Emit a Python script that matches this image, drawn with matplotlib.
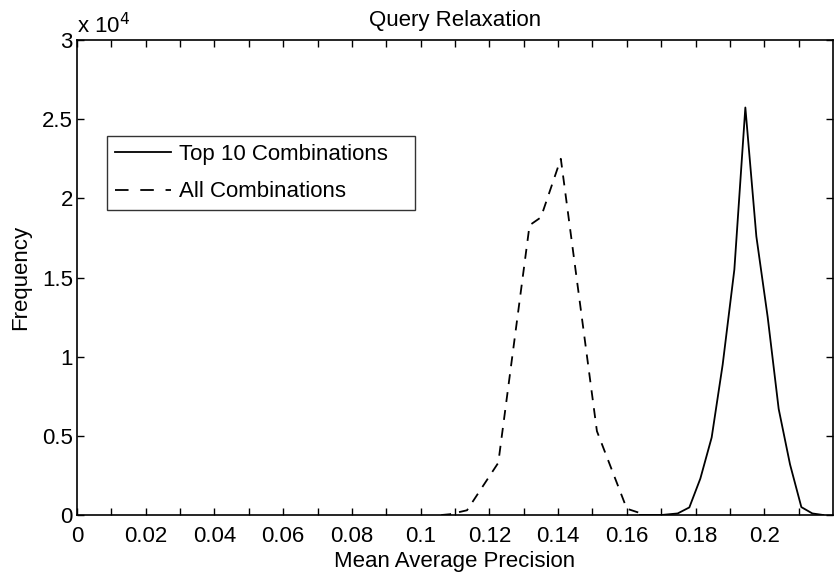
import matplotlib
matplotlib.use("Agg")
import matplotlib.pyplot as plt
import numpy as np
from matplotlib.ticker import MultipleLocator, FixedLocator, FuncFormatter

plt.rcParams['font.family'] = ['Liberation Sans', 'DejaVu Sans']

# Top 10 combinations (solid)
top_x = [0.1638, 0.1700, 0.1748, 0.1782, 0.1814, 0.1847, 0.1879, 0.1913,
         0.1945, 0.1977, 0.2010, 0.2042, 0.2075, 0.2108, 0.2140, 0.2172]
top_y = [0.0, 0.0, 0.01, 0.048, 0.23, 0.49, 0.95, 1.55,
         2.574, 1.76, 1.25, 0.67, 0.32, 0.05, 0.01, 0.0]

# All combinations (dashed)
all_x = [0.1060, 0.1085, 0.1135, 0.1226, 0.1317, 0.1350, 0.1408, 0.1513, 0.1600, 0.1649]
all_y = [0.0, 0.005, 0.03, 0.33, 1.83, 1.88, 2.25, 0.53, 0.04, 0.005]

xticks = [0, 0.02, 0.04, 0.06, 0.08, 0.1, 0.12, 0.14, 0.16, 0.18, 0.2]
xtick_labels = ['0', '0.02', '0.04', '0.06', '0.08', '0.1', '0.12', '0.14', '0.16', '0.18', '0.2']

scale = 1e4
fs = 16

fig = plt.figure(figsize=(8.38, 5.75), dpi=100)
ax = fig.add_axes([0.0919, 0.1043, 0.9021, 0.8261])

ax.plot(top_x, np.array(top_y) * scale, 'k-', lw=1.3, label='Top 10 Combinations')
ax.plot(all_x, np.array(all_y) * scale, 'k--', lw=1.3, dashes=(5.5, 4.5), label='All Combinations')

ax.set_xlim(0, 0.22)
ax.set_ylim(0, 3e4)
ax.set_xticks(xticks)
ax.set_xticklabels(xtick_labels)
ax.xaxis.set_minor_locator(FixedLocator([0.01 + 0.02 * i for i in range(11)]))
ax.yaxis.set_major_locator(MultipleLocator(5000))
ax.yaxis.set_major_formatter(FuncFormatter(lambda v, p: '%g' % (v / scale)))
ax.tick_params(which='both', direction='in', top=True, right=True, labelsize=fs, width=1)
ax.tick_params(which='major', length=5, pad=3)
ax.tick_params(which='minor', length=5)
ax.tick_params(axis='x', which='major', pad=8)
for s in ax.spines.values():
    s.set_linewidth(1.2)

ax.text(0.0, 1.004, r'x 10$^{4}$', transform=ax.transAxes, fontsize=fs, ha='left', va='bottom')

ax.set_title('Query Relaxation', fontsize=fs, pad=10)
ax.set_xlabel('Mean Average Precision', fontsize=fs, labelpad=3)
ax.set_ylabel('Frequency', fontsize=fs, labelpad=8)

leg_w = 0.4074
leg_h = 0.155
leg = ax.legend(loc='upper left', bbox_to_anchor=(0.0397, 0.798 - leg_h, leg_w, leg_h),
                mode='expand', borderaxespad=0,
                fontsize=fs, frameon=True, fancybox=False, edgecolor='k',
                handlelength=2.55, borderpad=0.35, labelspacing=0.75, handletextpad=0.35)
leg.get_frame().set_linewidth(1.0)
for h in leg.get_lines():
    if h.get_linestyle() == '--':
        h.set_dashes((7.5, 6.5))

fig.savefig('out.png', dpi=100)
